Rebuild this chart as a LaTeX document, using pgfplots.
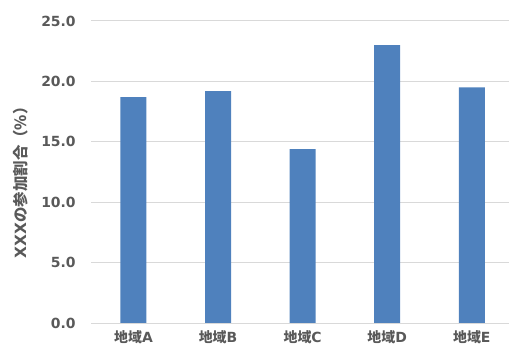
\documentclass[border=0pt]{standalone}
\usepackage{pgfplots}
\pgfplotsset{compat=1.18}
\usepackage{fontspec}
\setmainfont{Noto Sans CJK JP}
\newfontfamily\dv{DejaVu Sans}
\definecolor{barblue}{HTML}{4F81BD}
\definecolor{txtgray}{HTML}{595959}
\definecolor{gridgray}{HTML}{D9D9D9}
\begin{document}
\begin{tikzpicture}[x=1bp,y=1bp]
\useasboundingbox (-91.2bp,-28bp) rectangle (417.8bp,323bp);
\begin{axis}[
  at={(0,0)}, anchor=south west,
  scale only axis,
  width=417.8bp, height=302bp,
  xmin=-0.5, xmax=4.44,
  ymin=0, ymax=25,
  ytick={0,5,10,15,20,25},
  xtick={0,1,2,3,4},
  xticklabels={地域{\dv A},地域{\dv B},地域{\dv C},地域{\dv D},地域{\dv E}},
  ymajorgrids,
  grid style={gridgray, line width=1pt},
  axis x line*=bottom,
  axis y line*=left,
  y axis line style={draw=none},
  x axis line style={draw=gridgray, line width=1pt, -},
  major tick length=0pt,
  yticklabel style={/pgf/number format/.cd, fixed, fixed zerofill, precision=1, /tikz/.cd},
  /pgf/number format/assume math mode=true,
  yticklabel style={font=\dv\fontsize{14}{16}\selectfont\bfseries, text=txtgray, xshift=-12bp},
  xticklabel style={font=\fontsize{14}{16}\selectfont\bfseries, text=txtgray, yshift=-4bp},
  ylabel={{\dv XXX}の参加割合（\%）},
  ylabel style={font=\fontsize{15.5}{18}\selectfont\bfseries, text=txtgray, at={(axis description cs:-0.17,0.477)}, rotate=0, anchor=center},
]
\addplot[ybar, bar width=26bp, fill=barblue, draw=none] coordinates {
  (0,18.7) (1,19.2) (2,14.4) (3,23.0) (4,19.5)
};
\end{axis}
\end{tikzpicture}
\end{document}
